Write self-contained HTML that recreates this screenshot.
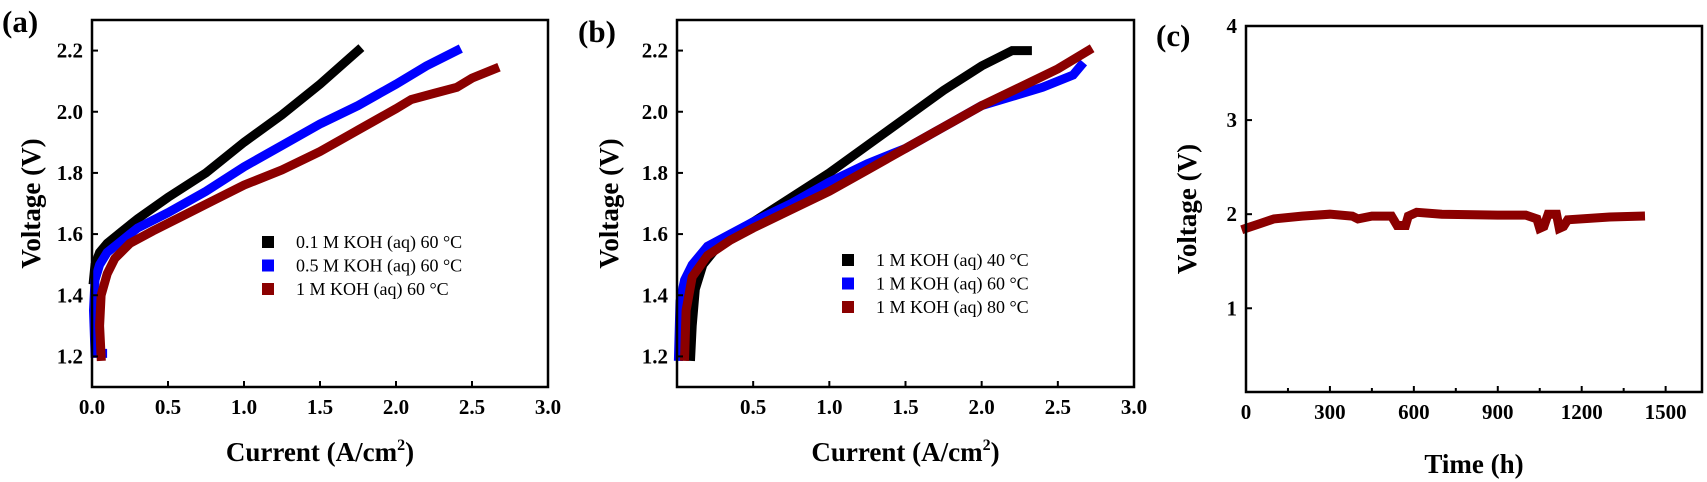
<!DOCTYPE html>
<html><head><meta charset="utf-8"><style>
html,body{margin:0;padding:0;background:#fff;}
svg{display:block;font-family:"Liberation Serif",serif;}
</style></head><body>
<svg id="fig" width="1707" height="482" viewBox="0 0 1707 482"></svg>
<script>
// Panel (a) data
const aXTicks=[0,0.5,1,1.5,2,2.5,3];
const aXTickLabels=["0.0","0.5","1.0","1.5","2.0","2.5","3.0"];
const aYTicks=[1.2,1.4,1.6,1.8,2.0,2.2];
const aYTickLabels=["1.2","1.4","1.6","1.8","2.0","2.2"];
const a01I=[0.01,0.02,0.05,0.1,0.2,0.3,0.5,0.75,1.0,1.25,1.5,1.75];
const a01V=[1.45,1.5,1.54,1.57,1.61,1.65,1.72,1.8,1.9,1.99,2.09,2.2];
const a05I=[0.07,0.02,0.01,0.02,0.05,0.1,0.2,0.3,0.5,0.75,1.0,1.25,1.5,1.75,2.0,2.2,2.4];
const a05V=[1.21,1.21,1.35,1.45,1.5,1.54,1.58,1.62,1.67,1.74,1.82,1.89,1.96,2.02,2.09,2.15,2.2];
const a1I=[0.06,0.05,0.06,0.1,0.15,0.25,0.4,0.6,0.8,1.0,1.25,1.5,1.75,2.0,2.1,2.25,2.4,2.5,2.65];
const a1V=[1.2,1.3,1.4,1.47,1.52,1.57,1.61,1.66,1.71,1.76,1.81,1.87,1.94,2.01,2.04,2.06,2.08,2.11,2.14];
// Panel (b) data
const bXTicks=[0.5,1,1.5,2,2.5,3];
const bXTickLabels=["0.5","1.0","1.5","2.0","2.5","3.0"];
const b40I=[0.09,0.1,0.12,0.17,0.3,0.5,0.75,1.0,1.25,1.5,1.75,2.0,2.2,2.3];
const b40V=[1.2,1.3,1.42,1.5,1.58,1.64,1.72,1.8,1.89,1.98,2.07,2.15,2.2,2.2];
const b60I=[0.01,0.02,0.05,0.1,0.2,0.35,0.5,0.75,1.0,1.25,1.5,1.75,2.0,2.2,2.4,2.6,2.65];
const b60V=[1.2,1.38,1.45,1.5,1.56,1.6,1.64,1.7,1.77,1.83,1.88,1.95,2.02,2.05,2.08,2.12,2.15];
const b80I=[0.05,0.06,0.1,0.2,0.35,0.5,0.75,1.0,1.25,1.5,1.75,2.0,2.25,2.5,2.7];
const b80V=[1.2,1.35,1.46,1.53,1.58,1.62,1.68,1.74,1.81,1.88,1.95,2.02,2.08,2.14,2.2];
// Panel (c) data
const cXTicks=[0,300,600,900,1200,1500];
const cXTickLabels=["0","300","600","900","1200","1500"];
const cYTicks=[1,2,3,4];
const cYTickLabels=["1","2","3","4"];
const cT=[0,50,100,200,300,380,400,450,520,540,570,580,610,700,900,1000,1040,1050,1065,1080,1110,1120,1135,1150,1300,1410];
const cV=[1.85,1.9,1.95,1.98,2.0,1.98,1.95,1.98,1.98,1.88,1.88,1.98,2.02,2.0,1.99,1.99,1.95,1.85,1.87,2.0,2.0,1.85,1.87,1.94,1.97,1.98];

const NS="http://www.w3.org/2000/svg";
const svg=document.getElementById('fig');
function mk(tag,attrs,parent,text){const e=document.createElementNS(NS,tag);for(const k in attrs)e.setAttribute(k,attrs[k]);if(text!==undefined)e.textContent=text;(parent||svg).appendChild(e);return e;}

function panel(p){
  const g=mk('g',{});
  
  
  const sx=v=>p.L+(v-p.x0)/(p.x1-p.x0)*(p.R-p.L);
  const sy=v=>p.B-(v-p.y0)/(p.y1-p.y0)*(p.B-p.T);
  p.series.forEach(s=>{
    const pts=s.x.map((v,i)=>sx(v).toFixed(1)+','+sy(s.y[i]).toFixed(1)).join(' ');
    const pl=mk('polyline',{points:pts,fill:'none',stroke:s.color,'stroke-width':s.w||9,'stroke-linejoin':'miter','stroke-linecap':'square'},g);
    
    
  });
  const fr=mk('rect',{x:p.L,y:p.T,width:p.R-p.L,height:p.B-p.T,fill:'none',stroke:'#000','stroke-width':2.5},g);
  
  
  p.xt.forEach((v,i)=>{
    mk('line',{x1:sx(v),x2:sx(v),y1:p.B,y2:p.B-6,stroke:'#000','stroke-width':2},g);
    const t=mk('text',{x:sx(v),y:p.B+27,'text-anchor':'middle','font-size':21,'font-weight':'bold'},g,p.xl[i]);
    
    
  });
  if(p.xminor)p.xminor.forEach(v=>mk('line',{x1:sx(v),x2:sx(v),y1:p.B,y2:p.B-4,stroke:'#000','stroke-width':2},g));
  p.yt.forEach((v,i)=>{
    mk('line',{x1:p.L,x2:p.L+6,y1:sy(v),y2:sy(v),stroke:'#000','stroke-width':2},g);
    const t=mk('text',{x:p.L-9,y:sy(v)+7,'text-anchor':'end','font-size':21,'font-weight':'bold'},g,p.yl[i]);
    
    
  });
  const xt=mk('text',{x:(p.L+p.R)/2,y:p.xtY,'text-anchor':'middle','font-size':27,'font-weight':'bold'},g);
  
  
  if(p.sup){xt.textContent='Current (A/cm';mk('tspan',{'font-size':16,dy:-11},xt,'2');mk('tspan',{dy:11},xt,')');}
  else xt.textContent=p.xtitle;
  const cy=(p.T+p.B)/2;
  const yt=mk('text',{x:p.ytX,y:cy,'text-anchor':'middle','font-size':27,'font-weight':'bold',transform:`rotate(-90 ${p.ytX} ${cy})`},g,'Voltage (V)');
  
  
  const lb=mk('text',{x:p.lblX,y:p.lblY,'font-size':31,'font-weight':'bold'},g,p.lbl);
  
  
  if(p.legend){
    p.legend.forEach((e,i)=>{
      const y=p.legY+i*23.5;
      const lg=mk('g',{},g);
      
      
      mk('rect',{x:p.legX-6,y:y-6,width:12,height:12,fill:e.color},lg);
      mk('text',{x:p.legX+28,y:y+6,'font-size':18},lg,e.text);
    });
  }
}

panel({id:'panel-a',L:92,R:548,T:20,B:387,x0:0,x1:3,y0:1.1,y1:2.3,xt:aXTicks,xl:aXTickLabels,yt:aYTicks,yl:aYTickLabels,
  sup:true,xtY:461,ytX:40,lbl:'(a)',lblX:2,lblY:32,legX:268,legY:242,
  series:[{name:'series-0.1M',x:a01I,y:a01V,color:'#000'},{name:'series-0.5M',x:a05I,y:a05V,color:'#0000ff'},{name:'series-1M',x:a1I,y:a1V,color:'#8b0000'}],
  legend:[{color:'#000',text:'0.1 M KOH (aq) 60 °C'},{color:'#0000ff',text:'0.5 M KOH (aq) 60 °C'},{color:'#8b0000',text:'1 M KOH (aq) 60 °C'}]});
panel({id:'panel-b',L:677,R:1134,T:20,B:387,x0:0,x1:3,y0:1.1,y1:2.3,xt:bXTicks,xl:bXTickLabels,yt:aYTicks,yl:aYTickLabels,
  sup:true,xtY:461,ytX:618,lbl:'(b)',lblX:578,lblY:42,legX:848,legY:260,
  series:[{name:'series-40C',x:b40I,y:b40V,color:'#000'},{name:'series-60C',x:b60I,y:b60V,color:'#0000ff'},{name:'series-80C',x:b80I,y:b80V,color:'#8b0000'}],
  legend:[{color:'#000',text:'1 M KOH (aq) 40 °C'},{color:'#0000ff',text:'1 M KOH (aq) 60 °C'},{color:'#8b0000',text:'1 M KOH (aq) 80 °C'}]});
panel({id:'panel-c',L:1246,R:1702,T:26,B:392,x0:0,x1:1630,y0:0.11,y1:4,xt:cXTicks,xl:cXTickLabels,yt:cYTicks,yl:cYTickLabels,
  xminor:[150,450,750,1050,1350],xtitle:'Time (h)',xtY:473,ytX:1196,lbl:'(c)',lblX:1156,lblY:46,
  series:[{name:'series-stability',x:cT,y:cV,color:'#8b0000',w:9}]});
</script>
</body></html>
